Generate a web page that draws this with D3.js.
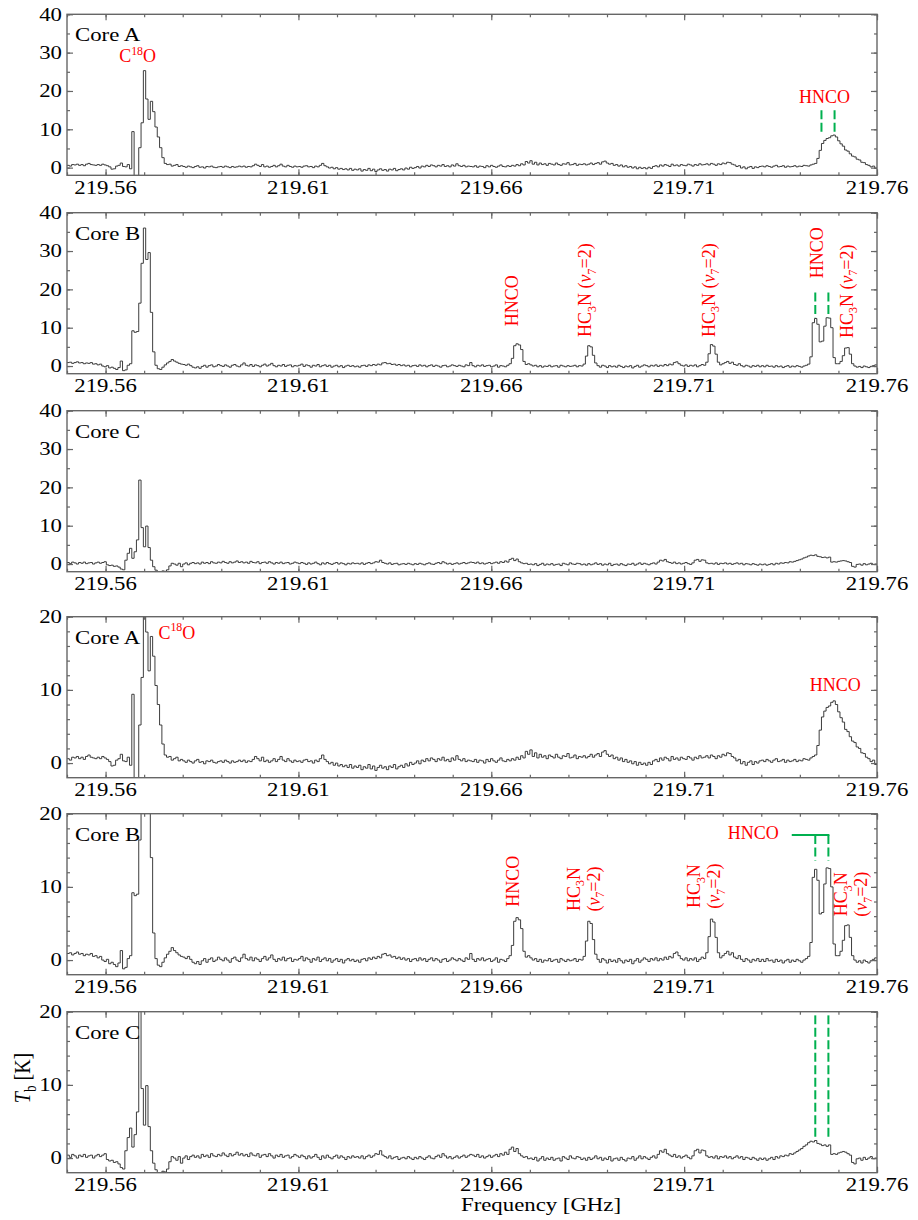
<!DOCTYPE html>
<html>
<head>
<meta charset="utf-8">
<script src="https://cdn.jsdelivr.net/npm/d3@7/dist/d3.min.js"></script>
<style>
  body { margin: 0; background: #fff; }
  svg text { font-family: "Liberation Serif", "Times New Roman", serif; }
</style>
</head>
<body>
<svg id="chart" width="918" height="1220"></svg>
<script>
// spectra: channel i starts at freqStart + i*chanWidth (GHz), values in K
var freqStart = 219.55, chanWidth = 0.0006;

var coreA = [
  0.6,0.4,0.8,0.7,0.9,0.6,0.8,0.5,0.9,1.1,0.8,0.7,0.6,0.8,0.6,0.9,0.7,0.5,0.2,-0.4,-0.3,0.4,0.6,1.2,0.3,
  0.2,0.8,-0.3,9.4,-6.0,-6.0,5.2,11.7,25.3,17.9,12.6,17.3,14.6,10.6,8.0,5.2,2.6,1.1,0.8,0.9,0.4,0.6,0.8,0.3,0.5,
  0.3,0.1,0.4,0.2,0.0,0.3,0.5,0.1,0.2,-0.1,0.3,0.2,0.4,0.1,0.0,0.2,0.3,0.1,0.4,0.2,0.0,0.3,0.1,0.2,0.4,
  0.2,0.4,0.1,0.3,0.2,0.5,0.9,0.6,0.3,0.8,0.2,0.4,0.1,0.3,0.6,0.2,0.5,0.9,0.4,0.2,0.6,0.3,0.1,0.4,0.2,
  0.3,0.1,0.4,0.5,0.2,0.3,0.0,0.4,0.2,0.6,1.1,0.5,0.2,-0.1,0.1,-0.3,0.0,-0.4,-0.2,-0.5,-0.3,-0.6,-0.2,-0.7,-0.4,
  -0.6,-0.3,-0.9,-0.5,-0.7,-0.2,-0.8,-0.4,-1.0,-0.6,-0.3,-0.7,-0.5,-0.9,-0.4,-0.6,-0.2,-0.8,-0.5,-0.3,-0.6,-0.1,-0.4,0.1,-0.2,
  0.0,0.3,-0.1,0.4,0.2,0.6,0.3,0.7,0.5,0.2,0.6,0.4,0.8,0.3,0.5,0.2,0.7,0.4,1.0,0.5,0.3,0.6,0.2,0.4,0.3,
  0.2,0.5,0.1,0.4,0.3,0.0,0.5,0.2,0.6,0.3,0.1,0.4,0.7,0.3,0.2,0.5,0.3,0.6,0.4,0.8,0.5,1.0,0.7,1.6,1.2,
  1.8,0.9,1.4,0.7,1.2,0.8,1.0,0.6,1.1,0.9,0.7,1.2,0.8,0.6,1.0,0.9,1.3,0.7,0.8,1.1,0.6,0.9,0.8,1.0,0.7,
  0.9,1.2,0.8,1.1,1.3,0.9,1.5,1.7,1.2,0.9,1.1,0.6,0.8,0.4,0.7,0.2,0.5,0.1,0.3,-0.1,0.2,-0.3,0.1,-0.2,0.0,
  -0.3,0.1,-0.2,0.3,0.5,0.2,0.7,0.4,0.8,0.6,0.3,0.9,0.5,0.7,0.4,0.8,0.6,0.5,0.9,0.7,0.4,0.8,0.6,1.0,0.7,
  0.8,1.0,0.7,1.1,0.9,0.6,1.0,0.8,1.2,1.0,1.4,1.3,0.9,0.7,0.3,0.5,-0.1,0.2,-0.3,0.1,0.3,-0.2,0.2,0.0,0.3,
  0.4,0.2,0.5,0.3,0.1,0.4,0.6,0.2,0.3,0.5,0.1,0.4,0.2,0.3,0.5,0.2,0.4,0.3,0.6,0.5,0.4,0.7,0.9,1.1,2.4,
  4.5,6.3,7.1,7.6,7.8,8.3,8.5,8.0,7.0,6.2,5.6,4.6,4.3,3.6,3.0,2.8,2.2,2.0,1.4,1.3,0.8,0.6,0.2,0.4,-0.2
];

var coreB = [
  0.9,1.0,0.7,0.9,1.1,0.8,0.9,0.6,0.8,0.7,0.9,0.5,0.6,0.3,0.5,0.0,-0.2,0.1,-0.5,-0.3,-0.6,-0.9,-0.4,1.3,-1.2,
  -1.0,0.2,0.6,9.2,8.8,9.0,16.4,26.8,36.0,27.8,29.6,14.0,3.7,0.2,-0.7,-0.9,-0.3,0.3,0.8,1.2,1.7,1.3,1.0,0.7,0.5,
  0.4,0.2,0.5,0.1,-0.3,-0.5,-0.2,-0.6,-0.1,0.2,-0.3,0.1,0.3,-0.2,0.0,0.4,0.1,-0.1,0.3,0.0,-0.3,0.2,0.4,0.0,-0.2,
  0.3,0.8,0.2,0.0,0.4,-0.1,0.3,0.1,-0.2,0.2,0.5,0.0,0.3,0.7,0.1,-0.2,0.2,0.0,0.4,-0.1,0.2,0.3,-0.2,0.1,0.0,
  0.2,0.5,-0.1,0.3,0.1,-0.3,0.2,0.0,0.4,-0.2,0.1,0.3,-0.1,0.2,-0.3,0.0,0.2,-0.2,0.1,-0.4,0.0,0.2,-0.1,0.1,-0.2,
  0.0,-0.3,0.1,0.2,-0.1,0.3,0.1,0.4,0.2,0.5,0.3,0.8,0.9,0.6,0.7,0.4,0.5,0.2,0.4,0.1,0.3,0.0,0.2,-0.2,0.1,
  0.2,-0.1,0.3,0.0,0.2,-0.2,0.1,0.3,-0.1,0.2,0.0,-0.3,0.1,0.2,-0.2,0.0,0.3,0.1,-0.1,0.2,0.0,-0.2,0.3,0.1,0.9,
  0.1,-0.2,0.2,0.0,0.3,-0.1,0.1,0.2,-0.2,0.0,0.3,-0.3,0.1,0.0,-0.2,0.2,0.6,2.0,5.3,5.8,5.5,4.3,1.2,0.4,0.6,
  0.3,0.0,0.2,-0.2,0.1,-0.3,0.0,-0.1,0.2,-0.2,0.0,0.1,-0.3,0.2,0.0,-0.2,0.1,-0.1,0.0,0.2,-0.2,0.1,0.0,0.5,2.6,
  5.3,5.0,2.8,0.8,0.1,-0.3,0.2,0.0,-0.4,0.1,-0.2,0.0,-0.3,0.2,-0.1,-0.4,0.0,-0.2,0.1,-0.5,-0.1,0.2,-0.3,0.0,0.3,
  0.1,-0.2,0.2,0.0,0.3,-0.1,0.2,0.0,0.4,0.1,0.5,0.3,0.9,1.1,0.6,0.2,0.0,0.3,-0.1,0.2,0.0,0.3,-0.2,0.1,0.4,
  0.2,1.0,3.2,5.6,5.2,3.1,1.0,0.3,0.6,0.9,1.2,0.7,1.0,0.4,0.2,0.6,0.1,-0.2,0.2,0.0,-0.3,0.1,-0.1,0.2,-0.2,
  0.1,-0.2,0.2,-0.1,0.0,-0.3,0.1,-0.2,0.0,-0.4,-0.1,0.1,-0.3,0.0,-0.2,0.1,-0.1,-0.3,0.0,0.2,0.5,2.4,11.3,12.4,10.9,
  6.3,6.5,10.4,12.6,12.5,10.0,2.2,0.6,0.6,1.2,2.7,4.7,4.8,3.1,0.6,0.0,-0.3,-0.1,-0.4,0.0,-0.2,-0.4,-0.1,0.1,0.3
];

var coreC = [
  0.4,0.1,0.5,0.3,0.0,0.4,0.2,0.5,0.1,0.3,0.4,0.0,0.3,0.5,0.2,0.4,0.6,-0.2,-0.4,-0.3,-0.6,-0.5,-0.8,-1.3,-1.5,
  1.0,2.8,4.1,1.5,3.2,6.3,21.9,9.5,4.5,9.9,4.3,1.0,-0.7,-1.6,-2.5,-2.2,-1.8,-1.9,-1.5,-0.5,0.2,0.0,-0.3,0.2,-0.7,
  0.0,0.3,-0.2,0.2,0.4,0.1,0.3,0.0,0.5,0.2,0.4,0.1,0.6,0.3,0.2,0.5,0.3,0.7,0.4,0.2,0.6,0.3,0.5,0.8,0.4,
  0.6,0.3,0.5,0.2,0.7,0.4,0.3,0.6,0.1,0.4,0.5,0.2,0.6,0.3,0.0,0.4,0.2,0.5,0.1,0.3,0.4,0.0,0.2,0.5,0.3,
  0.1,0.4,0.2,-0.1,0.3,0.0,0.2,0.5,0.1,-0.2,0.3,0.0,0.4,0.1,-0.1,0.2,0.4,0.0,0.3,0.1,-0.2,0.2,0.0,0.3,0.1,
  0.2,0.0,0.3,-0.1,0.2,0.4,0.1,0.3,0.6,0.5,1.0,0.4,0.2,0.0,0.3,-0.1,0.1,0.2,-0.2,0.0,0.1,-0.1,0.2,0.0,-0.2,
  0.1,-0.1,0.2,0.0,-0.2,0.1,0.3,0.0,-0.1,0.2,0.4,0.1,0.6,0.3,0.0,0.2,-0.1,0.1,0.3,0.0,0.2,0.4,0.1,0.3,0.5,
  0.4,0.2,0.5,0.1,0.3,0.0,0.2,0.4,0.1,0.3,0.5,0.2,0.6,0.4,0.8,0.5,1.2,1.5,0.9,1.3,0.6,0.3,0.1,0.2,-0.1,
  0.0,-0.2,0.1,-0.4,-0.1,0.2,-0.3,0.0,-0.2,0.1,-0.3,-0.1,0.0,-0.4,0.2,0.0,-0.2,0.3,0.0,-0.1,0.2,0.1,-0.2,0.0,-0.3,
  0.1,-0.2,0.0,0.3,-0.1,0.1,-0.3,0.0,-0.2,0.2,-0.4,-0.1,0.0,-0.3,0.1,-0.2,-0.4,0.0,-0.1,0.2,-0.3,0.0,0.3,-0.1,0.2,
  0.0,-0.2,0.1,0.3,0.0,0.5,1.0,0.8,1.2,0.6,0.4,0.2,0.5,0.1,0.3,0.0,0.2,0.4,0.1,-0.1,0.3,1.0,1.2,0.7,1.1,
  1.0,0.3,0.1,0.2,0.0,0.3,-0.1,0.2,0.1,0.3,0.0,0.2,-0.1,0.1,0.3,0.0,0.2,-0.2,0.1,0.0,-0.2,0.1,-0.1,-0.3,0.0,
  -0.2,0.0,-0.3,-0.1,0.1,-0.2,0.2,0.0,0.3,0.2,0.4,0.3,0.6,0.5,0.7,0.9,1.1,1.3,1.6,1.8,2.1,2.3,2.2,2.4,2.0,
  1.9,1.7,1.8,1.6,1.8,0.5,0.6,0.5,0.7,0.8,0.9,0.8,0.6,0.4,-0.6,-0.8,-0.1,0.0,-0.3,0.1,-0.2,0.0,0.2,-0.1,0.0
];

var xTicks = [219.56, 219.61, 219.66, 219.71, 219.76];
var yTicksWide = [0, 10, 20, 30, 40];
var yTicksZoom = [0, 10, 20];

// HNCO line positions marked with green dashes (GHz)
var hncoLinesA = [219.7456, 219.7490];
var hncoLinesBC = [219.7440, 219.7474];

var panels = [
  { name: "Core A", data: coreA, yMax: 40, minor: 5 },
  { name: "Core B", data: coreB, yMax: 40, minor: 5 },
  { name: "Core C", data: coreC, yMax: 40, minor: 5 },
  { name: "Core A", data: coreA, yMax: 20, minor: 2 },
  { name: "Core B", data: coreB, yMax: 20, minor: 2 },
  { name: "Core C", data: coreC, yMax: 20, minor: 2 }
];

var left = 67, pw = 810, ph = 161;
var panelTops = [14.3, 212.7, 410.7, 616.7, 813.7, 1011.7];
var frameColor = "#666", red = "#ff0000", green = "#00b04f";
var sx = 1.2; // the black lettering is horizontally widened

var svg = d3.select("#chart");
var x = d3.scaleLinear().domain([219.55, 219.76]).range([0, pw]);

function wideText(g, px, py, anchor, size) {
  return g.append("text")
    .attr("transform", "translate(" + px + "," + py + ") scale(" + sx + ",1)")
    .attr("text-anchor", anchor)
    .attr("font-size", size)
    .attr("fill", "#000");
}

// text made of pieces: {t, sub, sup, it}
function richText(text, parts, size) {
  var shift = 0;
  parts.forEach(function(p) {
    var target = p.sub ? size * 0.25 : (p.sup ? -size * 0.4 : 0);
    var ts = text.append("tspan").text(p.t).attr("dy", target - shift);
    if (p.sub || p.sup) ts.attr("font-size", size * 0.66);
    if (p.it) ts.attr("font-style", "italic");
    shift = target;
  });
  return text;
}

var C18O = [{t: "C"}, {t: "18", sup: true}, {t: "O"}];
var HC3N = [{t: "HC"}, {t: "3", sub: true}, {t: "N"}];
var NU = [{t: "("}, {t: "\u03BD", it: true}, {t: "7", sub: true}, {t: "=2)"}];
var HC3N_NU = HC3N.concat([{t: " "}], NU);

function redLabel(g, px, py, parts, anchor, rotate) {
  var t = g.append("text")
    .attr("transform", "translate(" + px + "," + py + ")" + (rotate ? " rotate(-90)" : ""))
    .attr("text-anchor", anchor)
    .attr("font-size", 18)
    .attr("fill", red);
  if (rotate) t.attr("dy", "0.35em");
  return richText(t, parts, 18);
}

function dashes(g, y, freqs, t0, t1) {
  freqs.forEach(function(f) {
    g.append("line")
      .attr("x1", x(f)).attr("x2", x(f))
      .attr("y1", y(t0)).attr("y2", y(t1))
      .attr("stroke", green).attr("stroke-width", 2)
      .attr("stroke-dasharray", "9,3.5");
  });
}

panels.forEach(function(p, k) {
  var g = svg.append("g").attr("transform", "translate(" + left + "," + panelTops[k] + ")");
  var y = d3.scaleLinear().domain([-2, p.yMax]).range([ph, 0]);
  var yMajor = p.yMax === 40 ? yTicksWide : yTicksZoom;
  var yMinor = d3.range(0, p.yMax + 0.01, p.minor);
  var xMinor = d3.range(219.55, 219.7601, 0.01);

  g.append("clipPath").attr("id", "clip" + k)
    .append("rect").attr("width", pw).attr("height", ph);

  // spectrum as a step histogram
  var pts = p.data.map(function(v, i) { return [freqStart + i * chanWidth, v]; });
  pts.push([freqStart + p.data.length * chanWidth, p.data[p.data.length - 1]]);
  var line = d3.line()
    .x(function(d) { return x(d[0]); })
    .y(function(d) { return y(d[1]); })
    .curve(d3.curveStepAfter);
  g.append("path").datum(pts)
    .attr("clip-path", "url(#clip" + k + ")")
    .attr("d", line)
    .attr("fill", "none")
    .attr("stroke", "#333")
    .attr("stroke-width", 0.95);

  // inward ticks on all four sides
  function ticks(axis, tr, vals, len) {
    var a = g.append("g").attr("transform", tr).attr("color", frameColor)
      .call(axis.tickValues(vals).tickSizeInner(-len).tickSizeOuter(0).tickFormat(""));
    a.select(".domain").remove();
    a.selectAll("line").attr("stroke-width", 1.2);
  }
  ticks(d3.axisBottom(x), "translate(0," + ph + ")", xMinor, 3);
  ticks(d3.axisBottom(x), "translate(0," + ph + ")", xTicks, 6);
  ticks(d3.axisTop(x), "translate(0,0)", xMinor, 3);
  ticks(d3.axisTop(x), "translate(0,0)", xTicks, 6);
  ticks(d3.axisLeft(y), "translate(0,0)", yMinor, 3);
  ticks(d3.axisLeft(y), "translate(0,0)", yMajor, 6);
  ticks(d3.axisRight(y), "translate(" + pw + ",0)", yMinor, 3);
  ticks(d3.axisRight(y), "translate(" + pw + ",0)", yMajor, 6);

  g.append("rect").attr("width", pw).attr("height", ph)
    .attr("fill", "none").attr("stroke", frameColor).attr("stroke-width", 1.4);

  xTicks.forEach(function(v) {
    wideText(g, x(v), ph + 18.5, "middle", 19).text(v.toFixed(2));
  });
  yMajor.forEach(function(v) {
    wideText(g, -5, y(v) + 6.4, "end", 19).text(v);
  });
  wideText(g, 8, 27, "start", 19).text(p.name);

  // line identifications
  if (k === 0) {
    redLabel(g, x(219.5683), y(27.6), C18O, "middle");
    redLabel(g, x(219.7464), y(16.9), [{t: "HNCO"}], "middle");
    dashes(g, y, hncoLinesA, 15, 9);
  }
  if (k === 1) {
    redLabel(g, x(219.6669), y(10.4), [{t: "HNCO"}], "start", true);
    redLabel(g, x(219.6859), y(7.6), HC3N_NU, "start", true);
    redLabel(g, x(219.7179), y(7.6), HC3N_NU, "start", true);
    redLabel(g, x(219.7459), y(22.9), [{t: "HNCO"}], "start", true);
    redLabel(g, x(219.7537), y(7.3), HC3N_NU, "start", true);
    dashes(g, y, hncoLinesBC, 19.2, 12.6);
  }
  if (k === 3) {
    redLabel(g, x(219.5737), y(17.0), C18O, "start");
    redLabel(g, x(219.7492), y(9.8), [{t: "HNCO"}], "middle");
  }
  if (k === 4) {
    redLabel(g, x(219.6673), y(7.3), [{t: "HNCO"}], "start", true);
    [[219.6855, 9.7], [219.7168, 10.1], [219.7549, 9.0]].forEach(function(a) {
      redLabel(g, x(a[0]) - 10, y(a[1]), HC3N, "middle", true);
      redLabel(g, x(a[0]) + 10, y(a[1]), NU, "middle", true);
    });
    redLabel(g, x(219.7345), y(16.5), [{t: "HNCO"}], "end");
    g.append("line")
      .attr("x1", x(219.7379)).attr("x2", x(hncoLinesBC[1]) + 1)
      .attr("y1", y(17.1)).attr("y2", y(17.1))
      .attr("stroke", green).attr("stroke-width", 2);
    dashes(g, y, hncoLinesBC, 17.1, 13.6);
  }
  if (k === 5) {
    dashes(g, y, hncoLinesBC, 19.5, 2.8);
  }
});

// axis titles
var yt = svg.append("text")
  .attr("transform", "translate(29.5,1078) scale(" + sx + ",1) rotate(-90)")
  .attr("text-anchor", "middle").attr("font-size", 20);
richText(yt, [{t: "T", it: true}, {t: "b", sub: true}, {t: " [K]"}], 20);

wideText(svg, 541, 1211, "middle", 19).text("Frequency [GHz]");
</script>
</body>
</html>
